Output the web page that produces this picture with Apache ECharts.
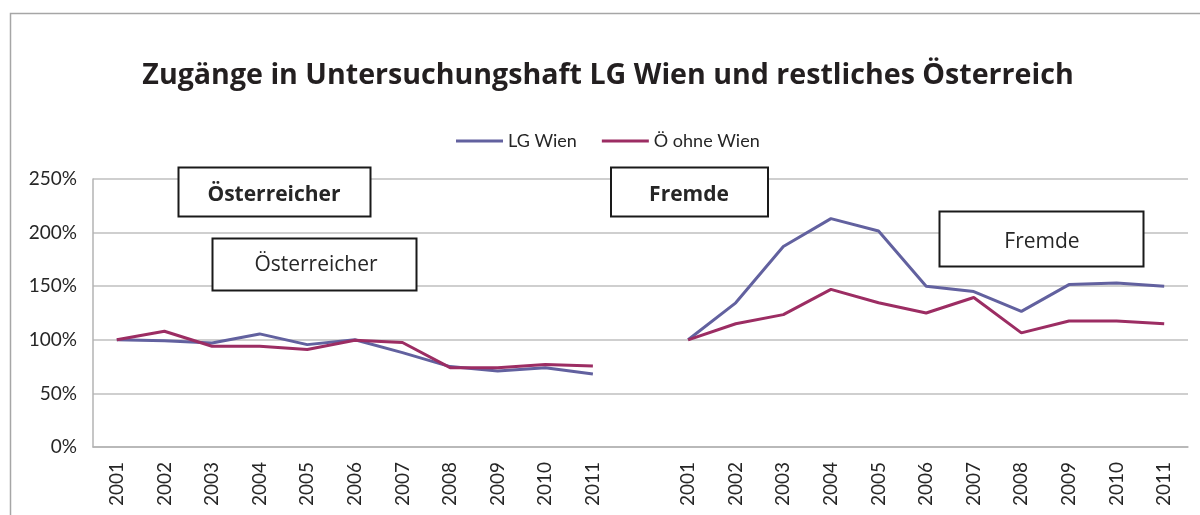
<!DOCTYPE html>
<html>
<head>
<meta charset="utf-8">
<script src="https://cdn.jsdelivr.net/npm/echarts@6/dist/echarts.min.js"></script>
<style>
  html, body { margin: 0; padding: 0; background: #ffffff; }
  #chart { width: 1200px; height: 515px; }
</style>
</head>
<body>
<div id="chart"></div>
<script>
// Years for the two panels (Österreicher | Fremde), separated by an empty slot
const years = ['2001', '2002', '2003', '2004', '2005', '2006', '2007', '2008', '2009', '2010', '2011'];
const categories = years.concat([''], years);

// Index values in percent (2001 = 100 %)
const lgWienOesterreicher = [100, 99, 97, 105.5, 95.5, 100, 88, 75, 71, 74, 68];
const restOesterreicher   = [100, 108, 94, 94, 91, 99.5, 97.5, 74, 74, 77, 75.5];
const lgWienFremde        = [100, 134.5, 187, 213, 201.5, 150, 145, 126.5, 151.5, 153, 150];
const restFremde          = [100, 115, 123.5, 147, 134.5, 125, 139.5, 106.5, 117.5, 117.5, 115];

const yTicks = [0, 50, 100, 150, 200, 250];

const seriesNames = ['LG Wien', 'Ö ohne Wien'];
const colors = ['#62619f', '#9c2d63'];

// the empty slot keeps the two panels from being joined
const lgWien = lgWienOesterreicher.concat([null], lgWienFremde);
const rest = restOesterreicher.concat([null], restFremde);

const FONT = 'Lato, "Open Sans", sans-serif';
const WIDE = '"Open Sans", Lato, sans-serif';
const TXT = '#262626';

const chart = echarts.init(document.getElementById('chart'), null, { renderer: 'canvas' });

function box(x, y, w, h, tx, ty, label, bold) {
  return [
    {
      type: 'rect',
      shape: { x: x, y: y, width: w, height: h },
      style: { fill: '#ffffff', stroke: '#1a1a1a', lineWidth: 2 },
      z: 10
    },
    {
      type: 'text',
      x: tx, y: ty,
      style: {
        text: label,
        font: (bold ? 'bold 21px ' : '21px ') + WIDE,
        fill: TXT,
        align: 'center', verticalAlign: 'middle',
        textAlign: 'center', textVerticalAlign: 'middle'
      },
      z: 11
    }
  ];
}

chart.setOption({
  animation: false,
  backgroundColor: '#ffffff',
  color: colors,
  grid: { left: 93, right: 12, top: 179, bottom: 68, containLabel: false },
  legend: {
    data: seriesNames,
    left: 451,
    top: 127,
    icon: 'rect',
    itemWidth: 47,
    itemHeight: 3,
    itemGap: 25,
    textStyle: { fontFamily: FONT, fontSize: 18, color: TXT, padding: [0, 0, 0, 0] }
  },
  xAxis: {
    type: 'category',
    data: categories,
    boundaryGap: true,
    axisLine: { show: true, lineStyle: { color: '#b3b3b3', width: 1.5 } },
    axisTick: { show: false },
    axisLabel: {
      interval: 0,
      rotate: 90,
      margin: 15,
      fontFamily: FONT,
      fontSize: 19,
      color: TXT
    },
    splitLine: { show: false }
  },
  yAxis: {
    type: 'value',
    min: yTicks[0],
    max: yTicks[yTicks.length - 1],
    interval: yTicks[1] - yTicks[0],
    axisLine: { show: true, lineStyle: { color: '#b3b3b3', width: 1.5 } },
    axisTick: { show: false },
    axisLabel: {
      formatter: '{value}%',
      margin: 16,
      fontFamily: FONT,
      fontSize: 19,
      color: TXT
    },
    splitLine: { show: true, lineStyle: { color: '#bfbfbf', width: 1.5 } }
  },
  series: [
    {
      name: seriesNames[0],
      type: 'line',
      data: lgWien,
      symbol: 'none',
      connectNulls: false,
      lineStyle: { width: 3, color: colors[0] },
      z: 3
    },
    {
      name: seriesNames[1],
      type: 'line',
      data: rest,
      symbol: 'none',
      connectNulls: false,
      lineStyle: { width: 3, color: colors[1] },
      z: 4
    }
  ],
  graphic: [
    // chart frame (only its left and top edges fall inside the page)
    {
      type: 'rect',
      shape: { x: 10.5, y: 13.5, width: 1400, height: 800 },
      style: { fill: null, stroke: '#a6a6a6', lineWidth: 1.5 },
      silent: true, z: 0
    },
    {
      type: 'text',
      x: 608, y: 76,
      style: {
        text: 'Zugänge in Untersuchungshaft LG Wien und restliches Österreich',
        font: 'bold 28.6px ' + WIDE,
        fill: '#231f20',
        align: 'center', verticalAlign: 'middle',
        textAlign: 'center', textVerticalAlign: 'middle'
      }
    }
  ]
    .concat(box(178.5, 167.5, 192, 49, 274, 195, 'Österreicher', true))
    .concat(box(212.5, 238.5, 204, 52, 316, 265, 'Österreicher', false))
    .concat(box(611, 167.5, 157, 49, 689, 195, 'Fremde', true))
    .concat(box(939.5, 211.5, 204, 55, 1042, 242, 'Fremde', false))
});
</script>
</body>
</html>
